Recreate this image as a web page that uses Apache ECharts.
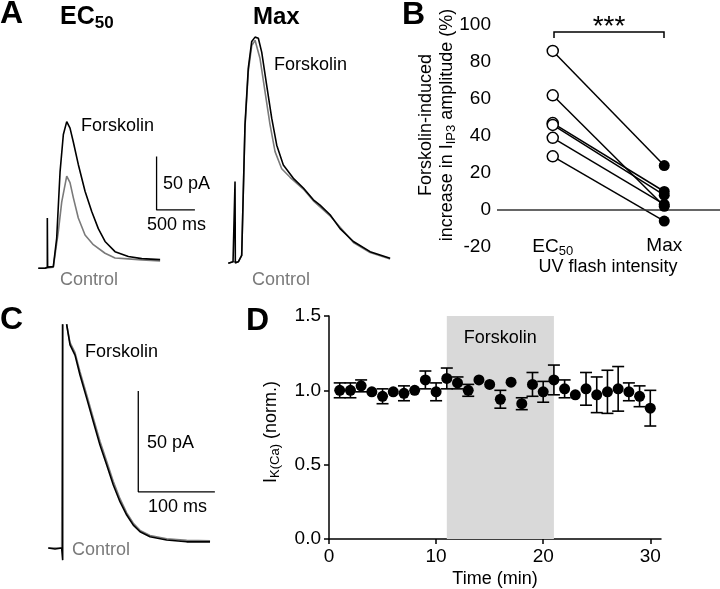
<!DOCTYPE html>
<html>
<head>
<meta charset="utf-8">
<script src="https://cdn.jsdelivr.net/npm/echarts@6/dist/echarts.min.js"></script>
<style>
html, body { margin: 0; padding: 0; background: #fff; }
#main { width: 720px; height: 589px; }
</style>
</head>
<body>
<div id="main"></div>
<script>
var FONT = '"Liberation Sans", Arial, Helvetica, sans-serif';

// Panel A traces, [time (ms), current (pA)]
var ec50Forsk = [[108,-1],[196,-1],[226,0],[226,46],[230,0],[304,0.5],[348,27],[392,89],[435,124],[479,136],[522,130],[565,117],[630,96],[718,71],[805,52],[891,36],[979,24],[1109,14.5],[1283,10],[1458,8],[1697,7]];
var ec50Ctrl = [[108,-1],[196,-1],[304,0],[369,33],[414,61],[479,85],[522,79],[565,65],[630,46],[718,30],[826,21],[979,13],[1109,8.6],[1283,7.7],[1458,6.7],[1697,5.8]];
var maxForsk = [[108,-0.4],[170,1],[196,0],[196,76],[200,0],[239,1],[283,7],[304,67],[326,129],[369,182],[414,207],[457,211],[500,210],[544,197],[609,166],[675,135],[740,110],[826,91.5],[957,79],[1087,70],[1218,59],[1305,54],[1436,45],[1566,32],[1740,20],[1958,10.5],[2219,4.3]];
var maxCtrl = [[108,-0.4],[170,1],[239,1],[283,7],[304,66],[326,127],[369,179],[414,203],[457,208],[522,191],[587,160],[653,129],[718,104],[805,88],[914,80],[1087,69],[1218,58],[1436,44],[1740,19],[1958,9.7],[2219,3.6]];

// Panel C traces, [time (ms), current (pA)]
var cForsk = [[10.8,0],[19.6,-0.5],[28.3,0],[29.6,-6],[29.6,130],[33,130],[34.9,110.7],[39.2,100.8],[45.7,95.8],[52.2,85.9],[61,74.3],[69.6,62.7],[78.3,51.1],[87.1,41.2],[95.7,31.3],[104.4,23],[113.2,16.4],[121.8,11.4],[130.6,8.1],[143.6,5.6],[165.4,4],[191.5,3.1],[222,3.1]];
var cCtrl = [[10.8,0],[28.3,0],[29.6,0],[29.6,130],[33,130],[34.9,110.7],[39.2,102],[45.7,97],[52.2,87.5],[61,76],[69.6,64.5],[78.3,53],[87.1,43],[95.7,33],[104.4,24.5],[113.2,17.5],[121.8,12.3],[130.6,8.8],[143.6,6.2],[165.4,4.6],[191.5,3.8],[222,3.6]];

// scale bars: corner [ms, pA], length in ms and pA
var scaleA = [1651, 53.5, 500, 50];
var scaleC = [128.3, 27.9, 100, 50];

// Panel B, % increase
var bCats = ['EC50', 'Max'];
var bEC50 = [86, 62, 47, 46, 39, 29];
var bMax = [24, 2, 10, 8, 3, -6];

// Panel D
var dTime = [1,2,3,4,5,6,7,8,9,10,11,12,13,14,15,16,17,18,19,20,21,22,23,24,25,26,27,28,29,30];
var dMean = [1.00,1.00,1.03,0.99,0.96,0.99,0.98,1.00,1.07,0.99,1.08,1.05,1.00,1.07,1.04,0.94,1.055,0.91,1.04,0.99,1.07,1.01,0.97,1.01,0.97,0.99,1.01,0.99,0.96,0.88];
var dSem = [0.05,0.05,0.04,0,0.05,0,0.05,0,0.06,0.06,0.07,0.04,0.04,0,0,0.06,0,0.04,0.08,0.07,0.10,0.06,0,0.11,0.12,0.145,0.15,0.06,0.07,0.12];
var forskWindow = [11, 21];

function scaleBar(s) {
	return [[s[0], s[1] + s[3]], [s[0], s[1]], [s[0] + s[2], s[1]]];
}

function trace(data, color, idx, z) {
	return {
		type: 'line', xAxisIndex: idx, yAxisIndex: idx, data: data,
		showSymbol: false, symbol: 'none', z: z, silent: true,
		lineStyle: { color: color, width: 1.6 }
	};
}

function txt(x, y, text, size, extra) {
	var st = { text: text, fill: '#000', fontSize: size, fontFamily: FONT, align: 'left', verticalAlign: 'middle' };
	for (var k in extra) st[k] = extra[k];
	return { type: 'text', x: x, y: y, silent: true, style: st };
}

var chart = echarts.init(document.getElementById('main'));

var series = [
	trace(ec50Ctrl, '#7a7a7a', 0, 2),
	trace(ec50Forsk, '#000', 0, 3),
	trace(scaleBar(scaleA), '#000', 0, 3),
	trace(maxCtrl, '#7a7a7a', 1, 2),
	trace(maxForsk, '#000', 1, 3),
	trace(cCtrl, '#7a7a7a', 3, 2),
	trace(cForsk, '#000', 3, 3),
	trace(scaleBar(scaleC), '#000', 3, 3)
];
series[2].lineStyle.width = 1.3;
series[7].lineStyle.width = 1.3;

bEC50.forEach(function (v, i) {
	var s = {
		type: 'line', xAxisIndex: 2, yAxisIndex: 2, data: [v, bMax[i]],
		showSymbol: false, symbol: 'none', z: 3, silent: true,
		lineStyle: { color: '#000', width: 1.5 }
	};
	if (i === 0) {
		s.markLine = {
			silent: true, symbol: ['none', 'none'], label: { show: false },
			lineStyle: { color: '#333', width: 1.5, type: 'solid' },
			data: [{ yAxis: 0 }]
		};
	}
	series.push(s);
});
series.push({
	type: 'scatter', xAxisIndex: 2, yAxisIndex: 2, z: 5, symbolSize: 11,
	data: bEC50.map(function (v) { return ['EC50', v]; }),
	itemStyle: { color: '#fff', borderColor: '#000', borderWidth: 1.5, opacity: 1 }
});
series.push({
	type: 'scatter', xAxisIndex: 2, yAxisIndex: 2, z: 5, symbolSize: 11,
	data: bMax.map(function (v) { return ['Max', v]; }),
	itemStyle: { color: '#000', opacity: 1 }
});

var dErr = [];
dTime.forEach(function (t, i) {
	if (dSem[i] > 0) dErr.push([t, dMean[i] - dSem[i], dMean[i] + dSem[i]]);
});
series.push({
	type: 'custom', xAxisIndex: 4, yAxisIndex: 4, z: 3, silent: true,
	data: dErr,
	renderItem: function (params, api) {
		var x = api.value(0);
		var hi = api.coord([x, api.value(2)]);
		var lo = api.coord([x, api.value(1)]);
		var w = 6, st = { stroke: '#000', lineWidth: 1.6 };
		return {
			type: 'group', children: [
				{ type: 'line', shape: { x1: hi[0], y1: hi[1], x2: lo[0], y2: lo[1] }, style: st },
				{ type: 'line', shape: { x1: hi[0] - w, y1: hi[1], x2: hi[0] + w, y2: hi[1] }, style: st },
				{ type: 'line', shape: { x1: lo[0] - w, y1: lo[1], x2: lo[0] + w, y2: lo[1] }, style: st }
			]
		};
	}
});
series.push({
	type: 'scatter', xAxisIndex: 4, yAxisIndex: 4, z: 4, symbolSize: 11,
	data: dTime.map(function (t, i) { return [t, dMean[i]]; }),
	itemStyle: { color: '#000', opacity: 1 },
	markArea: {
		silent: true,
		itemStyle: { color: '#d9d9d9' },
		label: { show: true, position: 'insideTop', distance: 13, color: '#000', fontSize: 18, fontFamily: FONT },
		data: [[{ name: 'Forskolin', xAxis: forskWindow[0] }, { xAxis: forskWindow[1] }]]
	}
});

var axisTxt = { color: '#000', fontSize: 19, fontFamily: FONT };
var axLine = { lineStyle: { color: '#000', width: 1.5 } };
var subRich = {
	n: { fontSize: 19, color: '#000', fontFamily: FONT },
	s: { fontSize: 13, color: '#000', fontFamily: FONT, padding: [9, 0, 0, 0] }
};

chart.setOption({
	animation: false,
	grid: [
		{ left: 30, top: 20, width: 184, height: 260 },
		{ left: 220, top: 20, width: 184, height: 260 },
		{ left: 497, top: 25, width: 223, height: 222 },
		{ left: 40, top: 325, width: 180, height: 240 },
		{ left: 329, top: 316, width: 332, height: 223 }
	],
	xAxis: [
		{ gridIndex: 0, type: 'value', min: 0, max: 2400, show: false },
		{ gridIndex: 1, type: 'value', min: 0, max: 2400, show: false },
		{
			gridIndex: 2, type: 'category', data: bCats,
			axisLine: { show: false, onZero: false }, axisTick: { show: false },
			axisLabel: {
				margin: -11, rich: subRich,
				formatter: function (v) { return v === 'EC50' ? '{n|EC}{s|50}' : '{n|Max}'; }
			}
		},
		{ gridIndex: 3, type: 'value', min: 0, max: 235, show: false },
		{
			gridIndex: 4, type: 'value', min: 0, max: 31, interval: 10,
			axisLine: axLine,
			axisTick: { length: 5, lineStyle: { width: 1.5, color: '#000' }, customValues: [0, 10, 20, 30] },
			axisLabel: Object.assign({ margin: 8, customValues: [0, 10, 20, 30] }, axisTxt),
			splitLine: { show: false },
			name: 'Time (min)', nameLocation: 'middle', nameGap: 31,
			nameTextStyle: { color: '#000', fontSize: 18, fontFamily: FONT }
		}
	],
	yAxis: [
		{ gridIndex: 0, type: 'value', min: -12, max: 231, show: false },
		{ gridIndex: 1, type: 'value', min: -16, max: 227, show: false },
		{
			gridIndex: 2, type: 'value', min: -20, max: 100, interval: 20,
			axisLine: axLine,
			axisTick: { length: 4, lineStyle: { width: 1.5, color: '#000' } },
			axisLabel: Object.assign({ margin: 6 }, axisTxt),
			splitLine: { show: false }
		},
		{ gridIndex: 3, type: 'value', min: -8.4, max: 110.7, show: false },
		{
			gridIndex: 4, type: 'value', min: 0, max: 1.5, interval: 0.5,
			axisLine: axLine,
			axisTick: { length: 5, lineStyle: { width: 1.5, color: '#000' } },
			axisLabel: Object.assign({ margin: 8, formatter: function (v) { return v.toFixed(1); } }, axisTxt),
			splitLine: { show: false }
		}
	],
	graphic: [
		// panel letters
		txt(0, 14, 'A', 32, { fontWeight: 'bold' }),
		txt(402, 15, 'B', 32, { fontWeight: 'bold' }),
		txt(0, 320, 'C', 32, { fontWeight: 'bold' }),
		txt(246, 321, 'D', 32, { fontWeight: 'bold' }),
		// panel A
		txt(60, 17, '{b|EC}{s|50}', 24, {
			rich: {
				b: { fontSize: 25, fontWeight: 'bold', fontFamily: FONT },
				s: { fontSize: 17, fontWeight: 'bold', fontFamily: FONT, padding: [12, 0, 0, 0] }
			}
		}),
		txt(253, 17, 'Max', 24, { fontWeight: 'bold' }),
		txt(81, 126, 'Forskolin', 18),
		txt(60, 280, 'Control', 18, { fill: '#7a7a7a' }),
		txt(274, 65, 'Forskolin', 18),
		txt(252, 280, 'Control', 18, { fill: '#7a7a7a' }),
		txt(163, 184, '50 pA', 18),
		txt(147, 225, '500 ms', 18),
		// panel B
		{
			type: 'text', x: 437, y: 125, rotation: Math.PI / 2, silent: true,
			style: {
				text: '{a|Forskolin-induced}\n{a|increase in I}{s|IP3}{a| amplitude (%)}',
				align: 'center', verticalAlign: 'middle', fill: '#000',
				rich: {
					a: { fontSize: 18, fontFamily: FONT, lineHeight: 21 },
					s: { fontSize: 13, fontFamily: FONT, lineHeight: 21, padding: [8, 0, 0, 0] }
				}
			}
		},
		txt(608, 267, 'UV flash intensity', 18, { align: 'center' }),
		{
			type: 'polyline', silent: true,
			shape: { points: [[554, 38], [554, 32], [664, 32], [664, 38]] },
			style: { stroke: '#000', lineWidth: 1.5, fill: null }
		},
		txt(609, 27, '***', 28, { align: 'center' }),
		// panel C
		txt(85, 352, 'Forskolin', 18),
		txt(72, 550, 'Control', 18, { fill: '#7a7a7a' }),
		txt(147, 443, '50 pA', 18),
		txt(148, 507, '100 ms', 18),
		// panel D
		{
			type: 'text', x: 271, y: 432, rotation: Math.PI / 2, silent: true,
			style: {
				text: '{a|I}{s|K(Ca)}{a| (norm.)}',
				align: 'center', verticalAlign: 'middle', fill: '#000',
				rich: {
					a: { fontSize: 18, fontFamily: FONT },
					s: { fontSize: 13, fontFamily: FONT, padding: [8, 0, 0, 0] }
				}
			}
		}
	],
	series: series
});
</script>
</body>
</html>
